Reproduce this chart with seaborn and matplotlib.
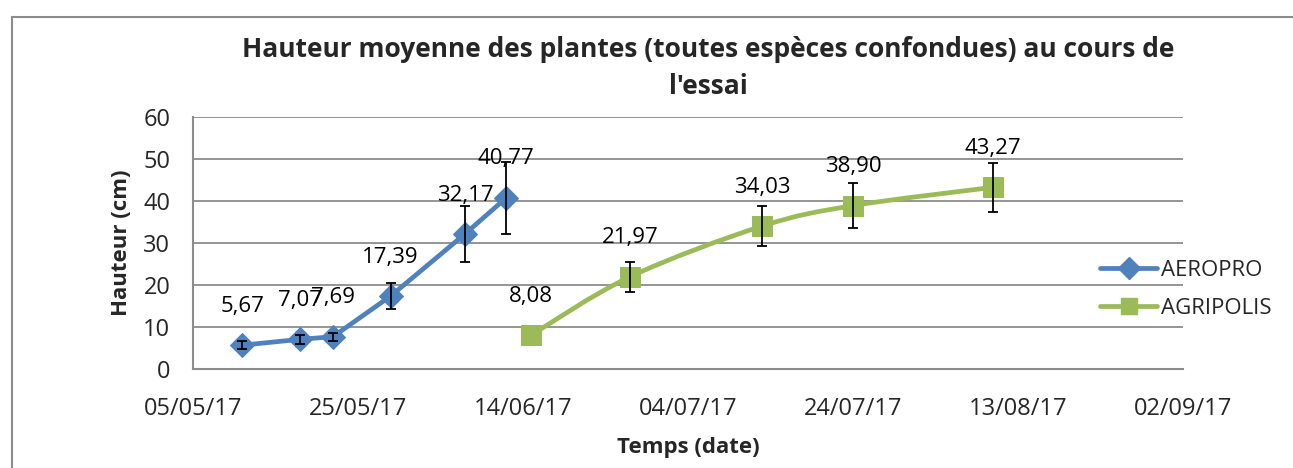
import numpy as np
import pandas as pd
import matplotlib
matplotlib.use("Agg")
import matplotlib.pyplot as plt
import matplotlib.dates as mdates
from matplotlib.path import Path
from matplotlib.patches import PathPatch, Rectangle
from matplotlib.lines import Line2D
import seaborn as sns

# data
aeropro_dates = ["2017-05-11", "2017-05-18", "2017-05-22", "2017-05-29", "2017-06-07", "2017-06-12"]
aeropro_values = [5.67, 7.07, 7.69, 17.39, 32.17, 40.77]
aeropro_err = [1.0, 1.0, 1.0, 3.0, 6.6, 8.6]

agripolis_dates = ["2017-06-15", "2017-06-27", "2017-07-13", "2017-07-24", "2017-08-10"]
agripolis_values = [8.08, 21.97, 34.03, 38.90, 43.27]
agripolis_err = [0.0, 3.6, 4.7, 5.3, 5.8]

tick_dates = ["2017-05-05", "2017-05-25", "2017-06-14", "2017-07-04", "2017-07-24", "2017-08-13", "2017-09-02"]
tick_labels = ["05/05/17", "25/05/17", "14/06/17", "04/07/17", "24/07/17", "13/08/17", "02/09/17"]

BLUE = "#4F81BD"
GREEN = "#9BBB59"
GRID = "#8c8c8c"

sns.set_style("white")
plt.rcParams["font.family"] = ["Open Sans", "DejaVu Sans"]

df_a = pd.DataFrame({"date": pd.to_datetime(aeropro_dates), "h": aeropro_values, "err": aeropro_err})
df_g = pd.DataFrame({"date": pd.to_datetime(agripolis_dates), "h": agripolis_values, "err": agripolis_err})

fig = plt.figure(figsize=(12.93, 4.68), dpi=100)
ax = fig.add_axes([0.149, 0.2115, 0.766, 0.5385])

# outer chart border (right and bottom edges fall outside the image)
fig.patches.append(Rectangle((12 / 1293, -0.1), 1.2, 1 - 17 / 468 + 0.1, transform=fig.transFigure,
                             fill=False, edgecolor=GRID, linewidth=1.5, zorder=0))

ax.set_xlim(pd.Timestamp("2017-05-05"), pd.Timestamp("2017-09-02"))
ax.set_ylim(0, 60)

# AEROPRO: straight segments
sns.lineplot(data=df_a, x="date", y="h", ax=ax, color=BLUE, linewidth=3.4, marker="D",
             markersize=12, markeredgecolor=BLUE, legend=False, zorder=3)

# AGRIPOLIS: smoothed curve through the points (Excel style)
xg = mdates.date2num(df_g["date"])
yg = df_g["h"].to_numpy()
verts = [(xg[0], yg[0])]
codes = [Path.MOVETO]
n = len(xg)
for i in range(n - 1):
    p0 = (xg[max(i - 1, 0)], yg[max(i - 1, 0)])
    p1 = (xg[i], yg[i])
    p2 = (xg[i + 1], yg[i + 1])
    p3 = (xg[min(i + 2, n - 1)], yg[min(i + 2, n - 1)])
    c1 = (p1[0] + (p2[0] - p0[0]) / 6, p1[1] + (p2[1] - p0[1]) / 6)
    c2 = (p2[0] - (p3[0] - p1[0]) / 6, p2[1] - (p3[1] - p1[1]) / 6)
    verts += [c1, c2, p2]
    codes += [Path.CURVE4] * 3
ax.add_patch(PathPatch(Path(verts, codes), fill=False, edgecolor=GREEN, linewidth=3.4,
                       capstyle="round", zorder=3))
sns.lineplot(data=df_g, x="date", y="h", ax=ax, color=GREEN, linewidth=0, marker="s",
             markersize=14, markeredgecolor=GREEN, legend=False, zorder=4)

# error bars
ax.errorbar(df_a["date"], df_a["h"], yerr=df_a["err"], fmt="none", ecolor="black",
            elinewidth=1.3, capsize=3.5, capthick=1.3, zorder=5)
mask = df_g["err"] > 0
ax.errorbar(df_g["date"][mask], df_g["h"][mask], yerr=df_g["err"][mask], fmt="none",
            ecolor="black", elinewidth=1.3, capsize=3.5, capthick=1.3, zorder=5)

# data labels
for d, v in zip(list(df_a["date"]) + list(df_g["date"]), aeropro_values + agripolis_values):
    ax.annotate(f"{v:.2f}".replace(".", ","), (d, v), xytext=(0, 28), textcoords="offset points",
                ha="center", va="center", fontsize=16, color="black", zorder=6)

ax.set_yticks(range(0, 61, 10))
ax.set_xticks(pd.to_datetime(tick_dates))
ax.set_xticklabels(tick_labels)
ax.tick_params(axis="x", labelsize=17, pad=20, length=0)
ax.tick_params(axis="y", labelsize=17, pad=16, length=0)
ax.yaxis.grid(True, color=GRID, linewidth=1.3)
ax.xaxis.grid(False)
for s in ["top", "right"]:
    ax.spines[s].set_visible(False)
for s in ["left", "bottom"]:
    ax.spines[s].set_color(GRID)
    ax.spines[s].set_linewidth(1.5)

ax.set_xlabel("Temps (date)", fontsize=16, fontweight="bold", labelpad=12)
ax.set_ylabel("Hauteur (cm)", fontsize=16, fontweight="bold", labelpad=8)
fig.text(0.548, 0.855, "Hauteur moyenne des plantes (toutes espèces confondues) au cours de\nl'essai",
         ha="center", va="center", fontsize=19, fontweight="bold", linespacing=1.45)

handles = [Line2D([], [], color=BLUE, linewidth=3.4, marker="D", markersize=11),
           Line2D([], [], color=GREEN, linewidth=3.4, marker="s", markersize=12)]
fig.legend(handles, ["AEROPRO", "AGRIPOLIS"], loc="center left", bbox_to_anchor=(0.835, 0.382),
           frameon=False, fontsize=16, handlelength=2.6, handletextpad=0.15, labelspacing=0.75)

fig.savefig("out.png", dpi=100)
